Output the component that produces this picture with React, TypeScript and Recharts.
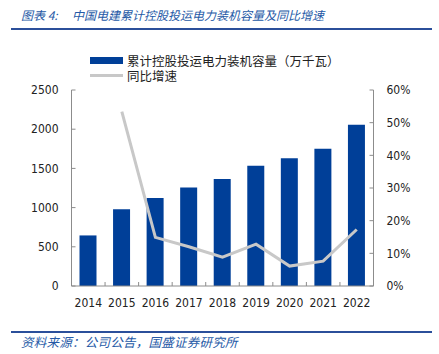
import React from "react";
import { ComposedChart, Bar, Line, XAxis, YAxis } from "recharts";

const years = ["2014", "2015", "2016", "2017", "2018", "2019", "2020", "2021", "2022"];
// 累计控股投运电力装机容量（万千瓦）
const capacity = [645, 980, 1123, 1256, 1365, 1535, 1628, 1752, 2057];
// 同比增速
const growth = [null, 0.534, 0.149, 0.12, 0.088, 0.128, 0.061, 0.076, 0.173];
const leftTicks = [0, 500, 1000, 1500, 2000, 2500];
const rightTicks = [0, 0.1, 0.2, 0.3, 0.4, 0.5, 0.6];

const data = years.map((year, i) => ({
  year,
  capacity: capacity[i],
  growth: growth[i],
}));

const BLUE = "#003f98";
const GRAY = "#c8c8c8";
const AXIS = "#8c8c8c";
const TITLE = "#2559a6";
const numFont = "'DejaVu Sans Condensed', 'DejaVu Sans', sans-serif";
const cjkFont = "'Noto Sans CJK SC', sans-serif";

const YearTick = (props: any) => {
  const { x, y, payload, index, visibleTicksCount } = props;
  const half = payload.offset || 16.8;
  return (
    <g>
      <line x1={x - half} x2={x - half} y1={y} y2={y - 4} stroke={AXIS} />
      {index === visibleTicksCount - 1 && (
        <line x1={x + half} x2={x + half} y1={y} y2={y - 4} stroke={AXIS} />
      )}
      <text
        x={x}
        y={y + 17}
        textAnchor="middle"
        dominantBaseline="central"
        fill="#222"
        fontSize={12}
        fontFamily={numFont}
      >
        {payload.value}
      </text>
    </g>
  );
};

const titleStyle: React.CSSProperties = {
  position: "absolute",
  top: 6,
  fontFamily: cjkFont,
  fontStyle: "italic",
  fontSize: 12,
  lineHeight: "18px",
  color: TITLE,
  whiteSpace: "nowrap",
};

const App: React.FC = () => {
  return (
    <div
      style={{
        position: "absolute",
        left: 0,
        top: 0,
        width: 439,
        height: 354,
        background: "#fff",
      }}
    >
      {/* title */}
      <div style={{ ...titleStyle, left: 21 }}>图表 4:</div>
      <div style={{ ...titleStyle, left: 72 }}>
        中国电建累计控股投运电力装机容量及同比增速
      </div>
      <div
        style={{
          position: "absolute",
          left: 11,
          top: 28,
          width: 421,
          height: 2,
          background: "#2b4f9a",
        }}
      />

      {/* legend */}
      <div
        style={{
          position: "absolute",
          left: 90,
          top: 53,
          fontFamily: cjkFont,
          fontSize: 12.5,
          color: "#222",
          lineHeight: "15px",
          whiteSpace: "nowrap",
        }}
      >
        <div style={{ display: "flex", alignItems: "center", height: 15 }}>
          <span
            style={{
              display: "inline-block",
              width: 33,
              height: 7,
              background: BLUE,
              marginRight: 4,
            }}
          />
          累计控股投运电力装机容量（万千瓦）
        </div>
        <div style={{ display: "flex", alignItems: "center", height: 15 }}>
          <span
            style={{
              display: "inline-block",
              width: 33,
              height: 3,
              background: GRAY,
              marginRight: 4,
            }}
          />
          同比增速
        </div>
      </div>

      <div style={{ position: "absolute", left: 0, top: 0 }}>
        <ComposedChart
          width={439}
          height={354}
          data={data}
          margin={{ top: 90, right: 25.5, bottom: 38, left: 31.5 }}
        >
          <XAxis
            dataKey="year"
            height={30}
            tickLine={false}
            tickSize={0}
            tickMargin={0}
            stroke={AXIS}
            interval={0}
            tick={<YearTick />}
          />
          <YAxis
            yAxisId="left"
            width={40}
            domain={[0, 2500]}
            ticks={leftTicks}
            interval={0}
            stroke={AXIS}
            tickSize={-4}
            tickMargin={17}
            tick={{ fill: "#222", fontSize: 12, fontFamily: numFont }}
          />
          <YAxis
            yAxisId="right"
            orientation="right"
            width={40}
            domain={[0, 0.6]}
            ticks={rightTicks}
            interval={0}
            stroke={AXIS}
            tickSize={-4}
            tickMargin={17}
            tickFormatter={(v: number) => `${Math.round(v * 100)}%`}
            tick={{ fill: "#222", fontSize: 12, fontFamily: numFont, textAnchor: "start" }}
          />
          <Bar
            yAxisId="left"
            dataKey="capacity"
            fill={BLUE}
            barSize={17}
            isAnimationActive={false}
          />
          <Line
            yAxisId="right"
            dataKey="growth"
            stroke={GRAY}
            strokeWidth={3}
            dot={false}
            activeDot={false}
            isAnimationActive={false}
          />
        </ComposedChart>
      </div>

      {/* source */}
      <div
        style={{
          position: "absolute",
          left: 11,
          top: 331,
          width: 421,
          height: 2,
          background: "#2b4f9a",
        }}
      />
      <div
        style={{
          position: "absolute",
          left: 21,
          top: 333,
          fontFamily: cjkFont,
          fontStyle: "italic",
          fontSize: 12.5,
          letterSpacing: 0.25,
          lineHeight: "17px",
          color: TITLE,
          whiteSpace: "nowrap",
        }}
      >
        资料来源：公司公告，国盛证券研究所
      </div>
    </div>
  );
};

export default App;
